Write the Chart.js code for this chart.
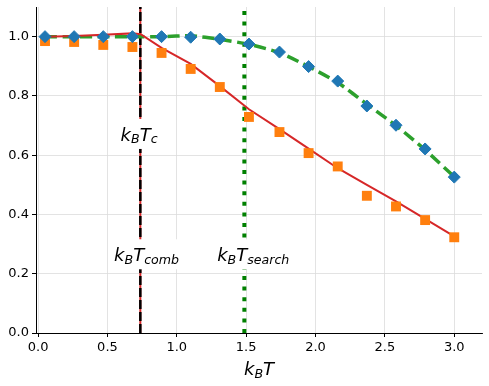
<!DOCTYPE html>
<html>
<head>
<meta charset="utf-8">
<script src="https://cdn.jsdelivr.net/npm/chart.js@4"></script>
<style>
  html, body { margin: 0; padding: 0; background: #fff; }
  #wrap { width: 489px; height: 386px; }
</style>
</head>
<body>
<div id="wrap"><canvas id="chart" width="489" height="386"></canvas></div>
<script>
// temperatures of the simulated points
const temps = [0.05, 0.26, 0.47, 0.68, 0.89, 1.10, 1.31, 1.52, 1.74, 1.95, 2.16, 2.37, 2.58, 2.79, 3.00];
const diamondVals = [1.0, 1.0, 1.0, 1.0, 1.0, 0.998, 0.992, 0.975, 0.948, 0.899, 0.850, 0.766, 0.701, 0.621, 0.526];
const squareVals = [0.985, 0.982, 0.972, 0.965, 0.945, 0.891, 0.830, 0.729, 0.678, 0.607, 0.562, 0.463, 0.427, 0.381, 0.323];

// red fit curve (kink at T_c)
const fitT = [0.05, 0.26, 0.47, 0.68, 0.74, 0.89, 1.10, 1.31, 1.52, 1.74, 1.95, 2.16, 2.37, 2.58, 2.79, 3.00];
const fitVals = [1.0, 1.002, 1.006, 1.011, 1.008, 0.962, 0.908, 0.833, 0.755, 0.688, 0.622, 0.556, 0.500, 0.444, 0.385, 0.326];

// green dashed curve
const greenVals = [1.0, 1.0, 1.0, 1.0, 1.0, 1.003, 0.991, 0.974, 0.946, 0.899, 0.845, 0.772, 0.700, 0.618, 0.527];

// vertical markers
const tcX = 0.737;
const searchX = 1.487;

// annotations: k_B T_<sub>
const labelSubs = ["c", "comb", "search"];
const labelX = [0.728, 0.782, 1.551];
const labelY = [0.648, 0.242, 0.242];

const xTicks = [0, 0.5, 1.0, 1.5, 2.0, 2.5, 3.0];
const yTicks = [0, 0.2, 0.4, 0.6, 0.8, 1.0];

const pts = (xs, ys) => xs.map((x, i) => ({ x, y: ys[i] }));
const vline = (x) => [{ x, y: 0 }, { x, y: 1.1 }];

const MAIN = "oblique 18px 'DejaVu Sans'";
const SUB = "oblique 12.6px 'DejaVu Sans'";

function drawMath(ctx, parts, cx, base, box) {
  let w = 0;
  for (const p of parts) { ctx.font = p.s ? SUB : MAIN; w += ctx.measureText(p.t).width; }
  let x = cx - w / 2;
  if (box) {
    ctx.fillStyle = "#fff";
    ctx.fillRect(x - 6, base - 22, w + 12, 30);
  }
  ctx.fillStyle = "#000";
  ctx.textBaseline = "alphabetic";
  ctx.textAlign = "left";
  for (const p of parts) {
    ctx.font = p.s ? SUB : MAIN;
    ctx.fillText(p.t, x, base + (p.s ? 2.5 : 0));
    x += ctx.measureText(p.t).width;
  }
}

const labelsPlugin = {
  id: "mathLabels",
  afterDatasetsDraw(chart) {
    const { ctx, scales: { x, y }, chartArea } = chart;
    ctx.save();
    labelSubs.forEach((s, i) => {
      drawMath(ctx, [{ t: "k", s: 0 }, { t: "B", s: 1 }, { t: "T", s: 0 }, { t: s, s: 1 }],
        x.getPixelForValue(labelX[i]), y.getPixelForValue(labelY[i]), true);
    });
    // x axis title
    drawMath(ctx, [{ t: "k", s: 0 }, { t: "B", s: 1 }, { t: "T", s: 0 }],
      (chartArea.left + chartArea.right) / 2, 375, false);
    ctx.restore();
  }
};

const tickFont = { family: "'DejaVu Sans'", size: 13 };
const noPad = (s) => { s.paddingTop = 0; s.paddingBottom = 0; s.paddingLeft = 0; s.paddingRight = 0; };

new Chart(document.getElementById("chart"), {
  type: "scatter",
  data: {
    datasets: [
      { data: pts(temps, diamondVals), pointStyle: "rectRot", pointRadius: 6, pointHoverRadius: 6,
        backgroundColor: "#1f77b4", borderColor: "#1f77b4", borderWidth: 1, order: 0 },
      { data: pts(temps, squareVals), pointStyle: "rect", pointRadius: 7, pointHoverRadius: 7,
        backgroundColor: "#ff7f0e", borderColor: "#ff7f0e", borderWidth: 0, order: 0 },
      { type: "line", data: pts(fitT, fitVals), showLine: true, borderColor: "#d62728", borderWidth: 2,
        pointRadius: 0, tension: 0, fill: false, order: 1 },
      { type: "line", data: pts(temps, greenVals), showLine: true, borderColor: "#2ca02c", borderWidth: 3.5,
        borderDash: [12, 5.5], pointRadius: 0, tension: 0.2, fill: false, order: 1 },
      { type: "line", data: vline(tcX), showLine: true, borderColor: "#000", borderWidth: 2.5,
        borderDash: [9, 3], pointRadius: 0, fill: false, order: 2 },
      { type: "line", data: vline(tcX), showLine: true, borderColor: "#d62728", borderWidth: 2,
        pointRadius: 0, fill: false, order: 2 },
      { type: "line", data: vline(searchX), showLine: true, borderColor: "#008000", borderWidth: 4,
        borderDash: [4, 6.6], pointRadius: 0, fill: false, order: 2 },
    ],
  },
  options: {
    responsive: false,
    animation: false,
    devicePixelRatio: 1,
    layout: { padding: { top: 7, right: 6, left: 0, bottom: 0 } },
    plugins: { legend: { display: false }, tooltip: { enabled: false } },
    scales: {
      x: {
        type: "linear", min: -0.015, max: 3.2,
        afterBuildTicks: (s) => { s.ticks = xTicks.map(v => ({ value: v })); },
        afterFit: (s) => { s.height = 53; noPad(s); },
        ticks: { font: tickFont, color: "#000", padding: 3, maxRotation: 0, autoSkip: false,
          callback: (v) => Number(v).toFixed(1) },
        grid: { color: "#dcdcdc", lineWidth: 0.8, tickColor: "#000", tickLength: 4, tickWidth: 1 },
        border: { color: "#000", width: 1 },
      },
      y: {
        type: "linear", min: 0, max: 1.1,
        afterBuildTicks: (s) => { s.ticks = yTicks.map(v => ({ value: v })); },
        afterFit: (s) => { s.width = 36; noPad(s); },
        ticks: { font: tickFont, color: "#000", padding: 3, autoSkip: false,
          callback: (v) => Number(v).toFixed(1) },
        grid: { color: "#dcdcdc", lineWidth: 0.8, tickColor: "#000", tickLength: 4, tickWidth: 1 },
        border: { color: "#000", width: 1 },
      },
    },
  },
  plugins: [labelsPlugin],
});
</script>
</body>
</html>
